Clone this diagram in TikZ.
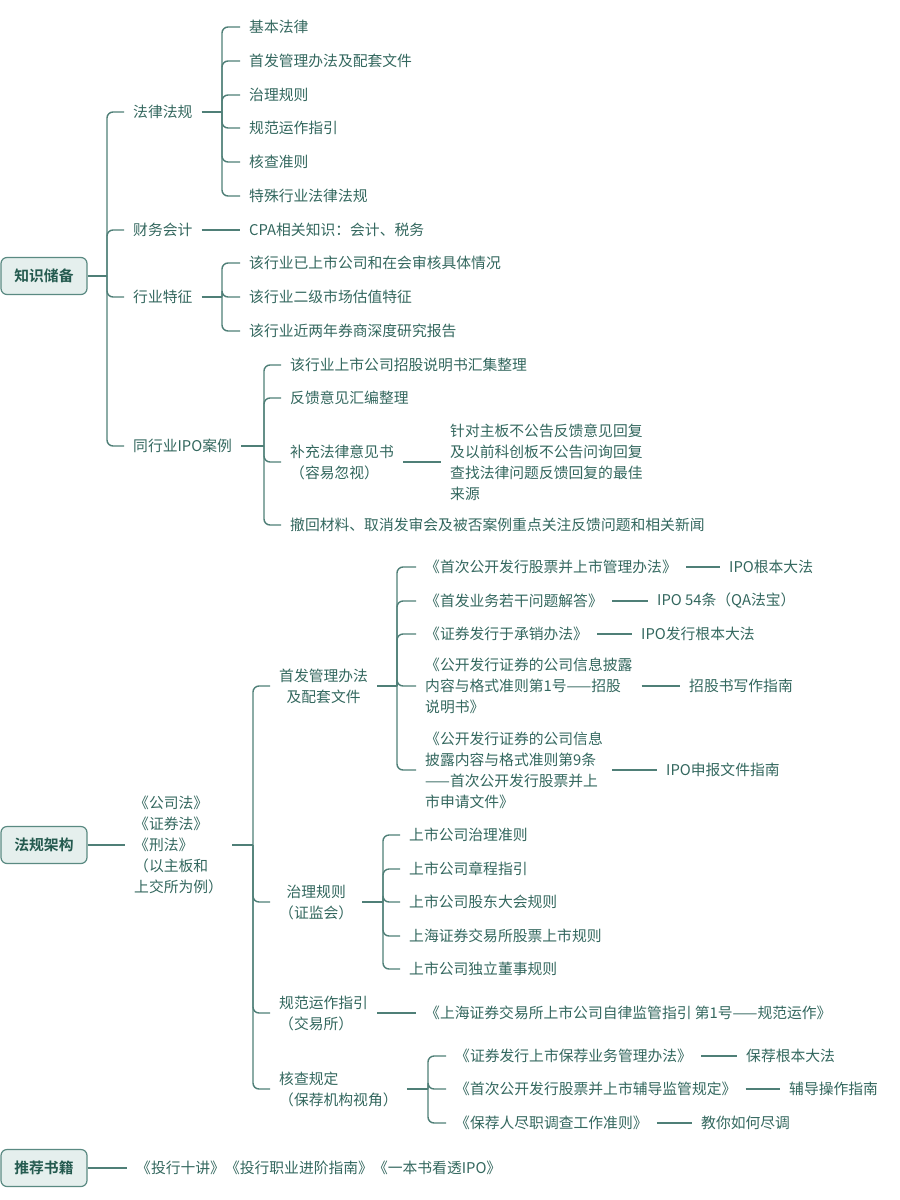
\documentclass[tikz,border=0pt]{standalone}
\usepackage{fontspec}
\setmainfont{Noto Sans CJK SC}[BoldFont={* Bold}]
\definecolor{linec}{HTML}{4F7F77}
\definecolor{txt}{HTML}{33675E}
\definecolor{rootfill}{HTML}{E5EFED}
\definecolor{rootdraw}{HTML}{5A8A82}
\definecolor{roottxt}{HTML}{245A4F}
\tikzset{
  rootbox/.style={draw=rootdraw, fill=rootfill, rounded corners=6pt, line width=1.2pt,
    minimum width=86pt, minimum height=37pt, inner sep=0pt, text=roottxt,
    font=\fontsize{14.8}{21}\selectfont\bfseries},
  topic/.style={anchor=west, text=txt, inner xsep=9pt, inner ysep=2pt,
    font=\fontsize{14.8}{21}\selectfont},
  conn/.style={draw=linec, line width=1.4pt, rounded corners=6pt},
}
\begin{document}
\begin{tikzpicture}[x=1pt,y=-1pt]
\useasboundingbox (0,0) rectangle (900,1200);
% ---------- 知识储备 ----------
\node[rootbox] (k) at (44,276) {知识储备};
\coordinate (kT) at (107,276);
\node[topic] (k1) at (124,112) {法律法规};
\node[topic] (k2) at (124,230) {财务会计};
\node[topic] (k3) at (124,297) {行业特征};
\node[topic] (k4) at (124,446) {同行业IPO案例};
\draw[conn] (k.east) -- (kT);
\foreach \c in {k1,k2,k3,k4} \draw[conn] (kT) |- (\c.west);

\coordinate (k1T) at (222,112);
\node[topic] (k11) at (240,27) {基本法律};
\node[topic] (k12) at (240,61) {首发管理办法及配套文件};
\node[topic] (k13) at (240,95) {治理规则};
\node[topic] (k14) at (240,128) {规范运作指引};
\node[topic] (k15) at (240,162) {核查准则};
\node[topic] (k16) at (240,196) {特殊行业法律法规};
\draw[conn] (k1.east) -- (k1T);
\foreach \c in {k11,k12,k13,k14,k15,k16} \draw[conn] (k1T) |- (\c.west);

\node[topic] (k21) at (240,230) {CPA相关知识：会计、税务};
\draw[conn] (k2.east) -- (k21.west);

\coordinate (k3T) at (222,297);
\node[topic] (k31) at (240,263) {该行业已上市公司和在会审核具体情况};
\node[topic] (k32) at (240,297) {该行业二级市场估值特征};
\node[topic] (k33) at (240,331) {该行业近两年券商深度研究报告};
\draw[conn] (k3.east) -- (k3T);
\foreach \c in {k31,k32,k33} \draw[conn] (k3T) |- (\c.west);

\coordinate (k4T) at (264,446);
\node[topic] (k41) at (281,365) {该行业上市公司招股说明书汇集整理};
\node[topic] (k42) at (281,398) {反馈意见汇编整理};
\node[topic, align=left] (k43) at (281,462) {补充法律意见书\\（容易忽视）};
\node[topic] (k44) at (281,525) {撤回材料、取消发审会及被否案例重点关注反馈问题和相关新闻};
\draw[conn] (k4.east) -- (k4T);
\foreach \c in {k41,k42,k43,k44} \draw[conn] (k4T) |- (\c.west);
\node[topic, align=left] (k431) at (441,462) {针对主板不公告反馈意见回复\\及以前科创板不公告问询回复\\查找法律问题反馈回复的最佳\\来源};
\draw[conn] (k43.east) -- (k431.west);

% ---------- 法规架构 ----------
\node[rootbox] (f) at (44,845) {法规架构};
\node[topic, align=left] (f0) at (125,845) {《公司法》\\《证券法》\\《刑法》\\（以主板和\\上交所为例）};
\draw[conn] (f.east) -- (f0.west);
\coordinate (fT) at (253,845);
\node[topic, align=center] (f1) at (270,686) {首发管理办法\\及配套文件};
\node[topic, align=center] (f2) at (270,902) {治理规则\\（证监会）};
\node[topic, align=left] (f3) at (270,1013) {规范运作指引\\（交易所）};
\node[topic, align=left] (f4) at (270,1089) {核查规定\\（保荐机构视角）};
\draw[conn] (f0.east) -- (fT);
\foreach \c in {f1,f2,f3,f4} \draw[conn] (fT) |- (\c.west);

\coordinate (f1T) at (397,686);
\node[topic] (a1) at (416,567) {《首次公开发行股票并上市管理办法》};
\node[topic] (a2) at (416,601) {《首发业务若干问题解答》};
\node[topic] (a3) at (416,634) {《证券发行于承销办法》};
\node[topic, align=left] (a4) at (416,686) {《公开发行证券的公司信息披露\\内容与格式准则第1号——招股\\说明书》};
\node[topic, align=left] (a5) at (416,770) {《公开发行证券的公司信息\\披露内容与格式准则第9条\\——首次公开发行股票并上\\市申请文件》};
\draw[conn] (f1.east) -- (f1T);
\foreach \c in {a1,a2,a3,a4,a5} \draw[conn] (f1T) |- (\c.west);
\node[topic] (a1n) at (720,567) {IPO根本大法};
\node[topic] (a2n) at (648,601) {IPO 54条（QA法宝）};
\node[topic] (a3n) at (632,634) {IPO发行根本大法};
\node[topic] (a4n) at (680,686) {招股书写作指南};
\node[topic] (a5n) at (657,770) {IPO申报文件指南};
\foreach \c in {a1,a2,a3,a4,a5} \draw[conn] (\c.east) -- (\c n.west);

\coordinate (f2T) at (383,902);
\node[topic] (b1) at (400,835) {上市公司治理准则};
\node[topic] (b2) at (400,869) {上市公司章程指引};
\node[topic] (b3) at (400,902) {上市公司股东大会规则};
\node[topic] (b4) at (400,936) {上海证券交易所股票上市规则};
\node[topic] (b5) at (400,969) {上市公司独立董事规则};
\draw[conn] (f2.east) -- (f2T);
\foreach \c in {b1,b2,b3,b4,b5} \draw[conn] (f2T) |- (\c.west);

\node[topic] (f31) at (416,1013) {《上海证券交易所上市公司自律监管指引 第1号——规范运作》};
\draw[conn] (f3.east) -- (f31.west);

\coordinate (f4T) at (428,1089);
\node[topic] (c1) at (446,1056) {《证券发行上市保荐业务管理办法》};
\node[topic] (c2) at (446,1089) {《首次公开发行股票并上市辅导监管规定》};
\node[topic] (c3) at (446,1123) {《保荐人尽职调查工作准则》};
\draw[conn] (f4.east) -- (f4T);
\foreach \c in {c1,c2,c3} \draw[conn] (f4T) |- (\c.west);
\node[topic] (c1n) at (737,1056) {保荐根本大法};
\node[topic] (c2n) at (780,1089) {辅导操作指南};
\node[topic] (c3n) at (692,1123) {教你如何尽调};
\foreach \c in {c1,c2,c3} \draw[conn] (\c.east) -- (\c n.west);

% ---------- 推荐书籍 ----------
\node[rootbox] (r) at (44,1168) {推荐书籍};
\node[topic] (r1) at (127,1168) {《投行十讲》《投行职业进阶指南》《一本书看透IPO》};
\draw[conn] (r.east) -- (r1.west);
\end{tikzpicture}
\end{document}
